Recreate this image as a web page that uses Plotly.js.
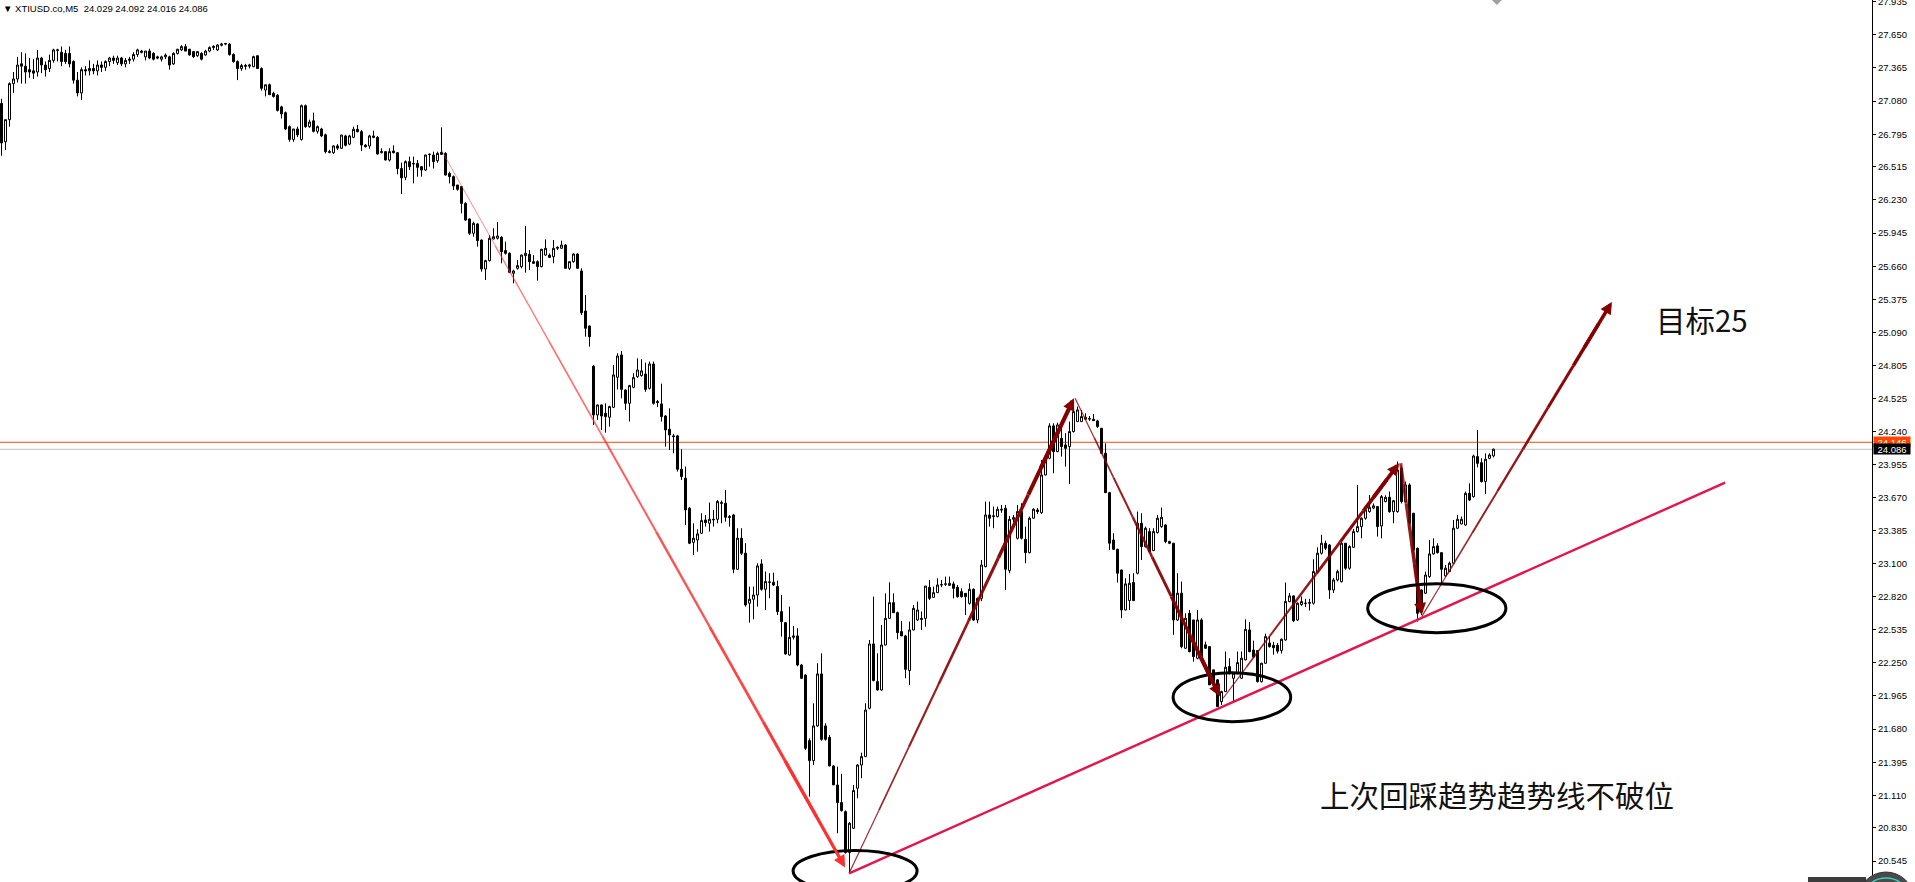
<!DOCTYPE html>
<html><head><meta charset="utf-8">
<script src="https://cdn.plot.ly/plotly-3.0.1.min.js"></script>
<style>html,body{margin:0;padding:0;background:#fff;overflow:hidden}#chart{width:1915px;height:882px}</style>
</head><body><div id="chart"></div>
<script>
// ---- data ----
const headerText = "\u25BC\u00a0XTIUSD.co,M5\u00a0\u00a024.029 24.092 24.016 24.086";
const openP = [
27.06,26.73,26.92,27.23,27.27,27.40,27.38,27.35,27.34,27.33,
27.45,27.39,27.36,27.43,27.515,27.50,27.49,27.49,27.42,27.26,
27.15,27.35,27.34,27.36,27.34,27.39,27.37,27.42,27.45,27.41,
27.45,27.40,27.43,27.44,27.48,27.51,27.46,27.51,27.49,27.46,
27.44,27.46,27.46,27.40,27.49,27.52,27.548,27.525,27.505,27.47,
27.49,27.476,27.51,27.54,27.52,27.56,27.57,27.57,27.48,27.42,
27.36,27.385,27.38,27.376,27.47,27.36,27.175,27.22,27.146,27.13,
27.03,26.98,26.86,26.75,26.84,26.75,27.04,26.86,26.91,26.82,
26.84,26.79,26.645,26.636,26.694,26.674,26.78,26.71,26.768,26.837,
26.817,26.70,26.694,26.78,26.768,26.636,26.645,26.573,26.65,26.636,
26.50,26.424,26.559,26.544,26.544,26.516,26.487,26.62,26.616,26.567,
26.639,26.630,26.458,26.430,26.358,26.344,26.200,26.066,25.943,26.023,
25.885,25.636,25.708,25.894,25.900,25.908,25.794,25.771,25.599,25.642,
25.656,25.751,25.762,25.699,25.699,25.656,25.756,25.756,25.742,25.814,
25.814,25.842,25.642,25.699,25.765,25.619,25.275,25.146,24.80,24.381,
24.467,24.395,24.361,24.447,24.705,24.897,24.596,24.481,24.619,24.71,
24.72,24.733,24.61,24.819,24.496,24.476,24.372,24.258,24.201,24.201,
23.914,23.837,23.579,23.286,23.306,23.364,23.478,23.450,23.484,23.484,
23.627,23.622,23.507,23.521,23.054,23.321,23.192,22.762,22.796,22.833,
23.100,22.882,22.942,22.942,22.905,22.690,22.595,22.317,22.469,22.481,
22.231,22.145,21.581,21.409,21.707,22.154,21.707,21.609,21.363,21.199,
21.048,20.970,20.618,20.827,21.171,21.371,21.443,21.859,22.412,22.088,
22.016,22.403,22.632,22.767,22.681,22.518,22.481,22.183,22.532,22.618,
22.632,22.632,22.899,22.813,22.853,22.919,22.925,22.916,22.928,22.899,
22.862,22.847,22.761,22.882,22.618,22.804,23.077,23.521,23.507,23.507,
23.570,23.579,23.043,23.484,23.321,23.550,23.312,23.197,23.493,23.564,
23.541,23.865,24.009,24.287,24.066,24.180,24.123,24.109,24.238,24.324,
24.324,24.344,24.349,24.344,24.330,24.266,24.052,23.713,23.306,23.226,
23.048,22.704,22.785,22.940,23.020,23.450,23.249,23.378,23.215,23.370,
23.421,23.435,23.292,23.278,22.618,22.848,22.375,22.676,22.618,22.289,
22.618,22.404,22.389,22.189,22.103,21.916,22.002,22.217,22.117,22.160,
22.117,22.275,22.532,22.36,22.355,22.088,22.246,22.42,22.40,22.40,
22.355,22.446,22.776,22.825,22.618,22.75,22.76,22.762,22.762,23.034,
23.192,23.278,23.263,22.876,22.962,22.948,23.278,23.063,23.243,23.378,
23.421,23.493,23.55,23.58,23.593,23.427,23.636,23.673,23.550,23.550,
23.922,23.636,23.779,23.535,23.235,22.876,22.848,22.991,23.186,23.255,
23.197,22.997,23.034,23.106,23.407,23.444,23.435,23.707,23.679,24.023,
23.971,23.808,24.008,24.029];
const highP = [
27.10,26.92,27.24,27.33,27.46,27.50,27.49,27.45,27.44,27.52,
27.46,27.42,27.48,27.53,27.53,27.55,27.52,27.55,27.43,27.33,
27.37,27.38,27.43,27.40,27.43,27.42,27.43,27.46,27.47,27.47,
27.46,27.45,27.46,27.50,27.53,27.52,27.51,27.53,27.50,27.47,
27.47,27.49,27.47,27.50,27.53,27.56,27.57,27.53,27.51,27.51,
27.50,27.52,27.55,27.56,27.57,27.58,27.58,27.58,27.49,27.43,
27.40,27.40,27.40,27.47,27.47,27.37,27.22,27.23,27.16,27.14,
27.04,26.99,26.87,26.84,26.86,27.05,27.05,26.92,26.98,26.87,
26.85,26.80,26.66,26.70,26.71,26.79,26.79,26.79,26.86,26.874,
26.83,26.71,26.79,26.825,26.78,26.674,26.65,26.674,26.70,26.64,
26.55,26.57,26.602,26.602,26.573,26.52,26.62,26.63,26.645,26.645,
26.854,26.64,26.473,26.44,26.36,26.35,26.21,26.07,26.043,26.03,
25.89,25.715,25.928,25.986,26.040,25.92,25.871,25.78,25.63,25.713,
25.76,26.006,25.799,25.756,25.71,25.81,25.891,25.77,25.885,25.83,
25.880,25.85,25.70,25.77,25.77,25.642,25.412,25.15,24.81,24.47,
24.47,24.481,24.46,24.81,24.911,24.931,24.60,24.64,24.74,24.868,
24.86,24.831,24.84,24.84,24.51,24.65,24.38,24.438,24.218,24.21,
24.086,23.937,23.59,23.450,23.398,23.536,23.521,23.627,23.564,23.650,
23.645,23.736,23.521,23.53,23.407,23.407,23.278,22.905,22.905,23.106,
23.140,23.034,23.020,23.025,22.957,22.833,22.60,22.733,22.567,22.547,
22.24,22.15,21.601,21.902,22.246,22.332,21.73,21.629,21.37,21.357,
21.295,20.98,20.88,21.199,21.38,21.477,21.902,22.446,22.819,22.332,
22.575,22.847,22.942,22.847,22.69,22.610,22.49,22.604,22.747,22.776,
22.690,22.910,22.962,22.905,22.976,22.962,22.991,22.991,22.948,22.919,
22.890,22.85,22.933,22.89,22.81,23.134,23.636,23.636,23.593,23.593,
23.607,23.607,23.513,23.52,23.607,23.622,23.421,23.507,23.579,23.58,
23.994,24.037,24.309,24.309,24.315,24.281,24.224,24.324,24.453,24.453,
24.424,24.395,24.372,24.390,24.34,24.27,24.137,23.72,23.364,23.23,
23.05,22.977,23.014,23.020,23.550,23.536,23.421,23.407,23.407,23.521,
23.584,23.44,23.30,23.28,23.020,22.948,22.676,22.704,22.62,22.704,
22.633,22.432,22.39,22.19,22.11,22.01,22.346,22.289,22.17,22.346,
22.346,22.624,22.60,22.44,22.36,22.25,22.50,22.48,22.43,22.42,
22.46,22.94,22.85,22.83,22.77,22.82,22.80,22.80,23.14,23.243,
23.35,23.30,23.27,22.98,23.05,23.29,23.28,23.26,23.40,23.779,
23.50,23.599,23.693,23.62,23.599,23.693,23.69,23.722,23.65,23.980,
23.937,23.808,23.793,23.54,23.24,22.88,23.034,23.306,23.320,23.278,
23.20,23.091,23.120,23.478,23.521,23.507,23.722,23.793,24.04,24.252,
24.008,24.051,24.051,24.092];
const lowP = [
26.61,26.66,26.86,27.15,27.24,27.23,27.23,27.28,27.27,27.29,
27.32,27.29,27.33,27.41,27.42,27.38,27.40,27.37,27.23,27.12,
27.09,27.30,27.30,27.31,27.30,27.33,27.34,27.38,27.40,27.39,
27.38,27.37,27.40,27.42,27.46,27.49,27.43,27.44,27.43,27.44,
27.42,27.44,27.35,27.39,27.48,27.51,27.51,27.47,27.45,27.46,
27.43,27.47,27.50,27.52,27.51,27.55,27.56,27.47,27.41,27.26,
27.34,27.35,27.36,27.37,27.36,27.17,27.12,27.14,27.11,26.99,
26.93,26.83,26.73,26.73,26.77,26.74,26.85,26.85,26.81,26.80,
26.77,26.63,26.63,26.625,26.66,26.67,26.69,26.70,26.76,26.81,
26.65,26.68,26.67,26.76,26.62,26.63,26.57,26.56,26.63,26.45,
26.28,26.40,26.487,26.372,26.43,26.43,26.48,26.516,26.50,26.55,
26.616,26.44,26.372,26.315,26.31,26.115,26.05,25.928,25.914,25.828,
25.613,25.541,25.70,25.89,25.89,25.685,25.76,25.60,25.513,25.63,
25.642,25.604,25.627,25.68,25.536,25.65,25.75,25.73,25.685,25.80,
25.81,25.64,25.627,25.69,25.64,25.240,25.054,24.968,24.295,24.338,
24.252,24.229,24.281,24.44,24.60,24.524,24.424,24.324,24.61,24.70,
24.71,24.58,24.60,24.47,24.45,24.324,24.109,24.080,24.052,23.894,
23.822,23.435,23.27,23.177,23.206,23.36,23.421,23.378,23.421,23.450,
23.450,23.464,23.421,23.020,23.05,23.177,22.733,22.595,22.624,22.733,
22.87,22.704,22.805,22.91,22.661,22.475,22.32,22.31,22.45,22.22,
22.11,21.500,21.099,21.371,21.70,21.58,21.58,21.36,21.199,20.784,
20.97,20.61,20.440,20.82,21.085,21.257,21.44,21.85,22.09,22.01,
22.01,22.40,22.63,22.68,22.452,22.48,22.117,22.059,22.53,22.61,
22.532,22.561,22.790,22.81,22.85,22.90,22.91,22.91,22.804,22.81,
22.81,22.661,22.75,22.61,22.590,22.78,23.07,23.421,23.407,23.50,
23.54,22.876,23.020,23.46,23.31,23.31,23.106,23.19,23.49,23.53,
23.53,23.86,24.00,23.880,24.06,24.023,23.937,23.788,24.23,24.32,
24.32,24.34,24.33,24.33,24.27,24.05,23.71,23.220,23.22,22.940,
22.633,22.70,22.704,22.78,23.01,23.134,23.24,23.20,23.21,23.36,
23.41,23.278,23.27,22.490,22.61,22.375,22.37,22.34,22.260,22.28,
22.30,22.37,22.06,22.05,21.87,21.888,22.00,22.15,21.916,22.15,
22.11,22.27,22.34,22.29,22.08,22.08,22.24,22.38,22.32,22.33,
22.33,22.44,22.77,22.60,22.61,22.74,22.73,22.70,22.75,23.02,
23.18,23.22,22.80,22.85,22.95,22.94,23.05,23.05,23.24,23.37,
23.320,23.48,23.54,23.57,23.335,23.320,23.63,23.54,23.450,23.54,
23.62,23.63,23.44,23.21,22.604,22.661,22.84,22.98,23.18,23.19,
22.919,22.99,23.03,23.10,23.40,23.44,23.43,23.64,23.67,23.93,
23.80,23.702,24.00,24.016];
const closeP = [
26.72,26.92,27.23,27.27,27.39,27.38,27.33,27.33,27.32,27.45,
27.39,27.35,27.43,27.52,27.52,27.42,27.42,27.40,27.26,27.15,
27.35,27.34,27.36,27.34,27.39,27.37,27.42,27.45,27.43,27.45,
27.40,27.43,27.44,27.48,27.52,27.50,27.51,27.45,27.44,27.45,
27.46,27.475,27.39,27.49,27.525,27.548,27.51,27.477,27.462,27.505,
27.44,27.51,27.54,27.55,27.562,27.57,27.575,27.48,27.42,27.36,
27.385,27.38,27.39,27.462,27.36,27.19,27.22,27.135,27.12,27.00,
26.97,26.84,26.75,26.84,26.79,27.04,26.86,26.90,26.82,26.86,
26.78,26.645,26.64,26.694,26.675,26.788,26.70,26.78,26.837,26.817,
26.702,26.688,26.78,26.768,26.625,26.645,26.573,26.645,26.636,26.50,
26.42,26.559,26.516,26.540,26.51,26.487,26.616,26.622,26.559,26.630,
26.622,26.444,26.430,26.350,26.321,26.200,26.057,25.943,26.029,25.880,
25.636,25.708,25.900,25.914,25.920,25.785,25.771,25.607,25.619,25.665,
25.756,25.771,25.699,25.685,25.656,25.805,25.814,25.736,25.814,25.822,
25.842,25.642,25.699,25.765,25.642,25.260,25.126,25.054,24.381,24.467,
24.372,24.367,24.453,24.725,24.888,24.601,24.481,24.633,24.702,24.768,
24.76,24.601,24.819,24.481,24.488,24.367,24.252,24.209,24.195,23.914,
23.851,23.564,23.278,23.321,23.358,23.473,23.455,23.484,23.480,23.636,
23.622,23.501,23.501,23.054,23.321,23.192,22.747,22.796,22.833,23.083,
22.882,22.948,22.945,22.919,22.690,22.604,22.326,22.469,22.481,22.231,
22.117,21.515,21.409,21.707,22.154,21.592,21.592,21.363,21.20,21.048,
20.979,20.618,20.870,21.151,21.371,21.443,21.844,22.412,22.097,22.016,
22.403,22.632,22.767,22.681,22.509,22.481,22.194,22.532,22.718,22.704,
22.624,22.910,22.804,22.853,22.919,22.922,22.928,22.933,22.890,22.819,
22.819,22.819,22.882,22.618,22.804,23.091,23.521,23.493,23.513,23.570,
23.565,23.054,23.484,23.498,23.550,23.321,23.197,23.493,23.570,23.550,
23.865,24.000,24.287,24.066,24.295,24.109,24.094,24.238,24.410,24.424,
24.367,24.361,24.347,24.332,24.281,24.052,23.713,23.278,23.226,23.020,
22.704,22.928,22.934,22.785,23.450,23.249,23.407,23.206,23.378,23.493,
23.501,23.292,23.278,22.618,22.848,22.389,22.633,22.346,22.303,22.618,
22.303,22.375,22.060,22.060,21.873,22.002,22.212,22.160,22.160,22.252,
22.289,22.538,22.346,22.30,22.088,22.246,22.475,22.39,22.38,22.35,
22.452,22.776,22.825,22.612,22.762,22.776,22.762,22.767,23.034,23.192,
23.278,23.235,22.876,22.962,23.034,23.278,23.063,23.249,23.378,23.421,
23.493,23.564,23.587,23.60,23.421,23.679,23.673,23.550,23.644,23.908,
23.636,23.779,23.450,23.220,22.676,22.690,23.005,23.186,23.249,23.197,
23.054,23.063,23.106,23.407,23.484,23.484,23.707,23.650,24.028,23.965,
23.808,24.000,24.037,24.086];

const tickVals = [27.935,27.650,27.365,27.080,26.795,26.515,26.230,25.945,25.660,25.375,25.090,24.805,24.525,24.240,
                  23.955,23.670,23.385,23.100,22.820,22.535,22.250,21.965,21.680,21.395,21.110,20.830,20.545];
const tickText = tickVals.map(v => v.toFixed(3));
const askPrice = 24.146;
const bidPrice = 24.086;

// drawn objects, in (bar index, price)
const redArrow = [[110.05, 26.654], [210.9, 20.49]];
const maroonArrows = [
  [[211.9, 20.44], [268.1, 24.524]],
  [[268.4, 24.524], [304.6, 21.959]],
  [[305.4, 21.945], [349.4, 23.966]],
  [[349.8, 23.966], [355.05, 22.661]],
  [[355.05, 22.647], [402.6, 25.353]]
];
const maroonWidths = [[1, 4.2], [1, 4], [1, 3.8], [3, 4], [1, 3.6]];
const trendLine = [[211.9, 20.44], [430.9, 23.799]];
const circleX = [[197.9, 228.9], [292.9, 322.3], [341.55, 376.1]];
const circleY = [[20.283, 20.636], [21.744, 22.165], [22.509, 22.929]];
const noteText = ['目标25', '上次回踩趋势趋势线不破位'];
const noteX = [413.0, 329.0];
const noteY = [25.205, 21.12];

// ---- build ----
const idx = openP.map((_, i) => i);
const traces = [{
  type: 'candlestick', x: idx, open: openP, high: highP, low: lowP, close: closeP,
  increasing: {line: {color: '#000', width: 1}, fillcolor: '#ffffff'},
  decreasing: {line: {color: '#000', width: 1}, fillcolor: '#000000'},
  whiskerwidth: 0, hoverinfo: 'skip', showlegend: false
}];
const annotations = [];

function lerp(a, b, t) { return [a[0] + (b[0] - a[0]) * t, a[1] + (b[1] - a[1]) * t]; }
function addArrow(p0, p1, w0, w1, color, a0, a1) {
  const n = 7, stop = 0.93;
  for (let k = 0; k < n; k++) {
    const s = lerp(p0, p1, stop * k / n), e = lerp(p0, p1, stop * (k + 1) / n);
    const f = (k + 0.5) / n;
    const alpha = a0 + (a1 - a0) * f;
    traces.push({type: 'scatter', mode: 'lines', x: [s[0], e[0]], y: [s[1], e[1]],
      line: {color: color.replace('A', alpha.toFixed(2)), width: w0 + (w1 - w0) * f},
      hoverinfo: 'skip', showlegend: false});
  }
  const tail = lerp(p0, p1, 0.85);
  annotations.push({x: p1[0], y: p1[1], xref: 'x', yref: 'y', ax: tail[0], ay: tail[1], axref: 'x', ayref: 'y',
    text: '', showarrow: true, arrowhead: 2, arrowwidth: w1, arrowsize: 12 / (5 * w1),
    arrowcolor: color.replace('A', a1.toFixed(2)), standoff: 0});
}
addArrow(redArrow[0], redArrow[1], 0.8, 3.2, 'rgba(255,48,48,A)', 0.55, 1);
maroonArrows.forEach((seg, k) => addArrow(seg[0], seg[1], maroonWidths[k][0], maroonWidths[k][1], 'rgba(133,0,0,A)', 0.8, 1));

traces.push({type: 'scatter', mode: 'lines', x: trendLine.map(p => p[0]), y: trendLine.map(p => p[1]),
  line: {color: '#e3154a', width: 2.4}, hoverinfo: 'skip', showlegend: false});

noteText.forEach((t, k) => annotations.push({x: noteX[k], y: noteY[k], xref: 'x', yref: 'y', xanchor: 'left', yanchor: 'middle',
  text: t, showarrow: false, font: {family: 'Noto Sans CJK SC, sans-serif', size: 29.5, color: '#111'}}));

annotations.push({x: 0, y: 1, xref: 'paper', yref: 'paper', xanchor: 'left', yanchor: 'top', xshift: 1, yshift: -1,
  text: headerText, showarrow: false, font: {family: 'Liberation Sans, Arial, sans-serif', size: 9.5, color: '#000'}});
annotations.push({x: 1, y: askPrice, xref: 'paper', yref: 'y', xanchor: 'left', yanchor: 'middle', xshift: 1,
  text: askPrice.toFixed(3), showarrow: false, bgcolor: '#ff4500', width: 36, height: 10, borderpad: 0,
  font: {family: 'Liberation Sans, Arial, sans-serif', size: 9.5, color: '#fff'}});
annotations.push({x: 1, y: bidPrice, xref: 'paper', yref: 'y', xanchor: 'left', yanchor: 'middle', xshift: 1,
  text: bidPrice.toFixed(3), showarrow: false, bgcolor: '#000', width: 36, height: 10, borderpad: 0,
  font: {family: 'Liberation Sans, Arial, sans-serif', size: 9.5, color: '#fff'}});

const shapes = [
  {type: 'line', xref: 'paper', x0: 0, x1: 1, yref: 'y', y0: askPrice, y1: askPrice, line: {color: '#ff4500', width: 1}, layer: 'below'},
  {type: 'line', xref: 'paper', x0: 0, x1: 1, yref: 'y', y0: bidPrice, y1: bidPrice, line: {color: '#c0c0c0', width: 1}, layer: 'below'}
];
circleX.forEach((cx, k) => shapes.push({type: 'circle', xref: 'x', yref: 'y', x0: cx[0], x1: cx[1], y0: circleY[k][0], y1: circleY[k][1],
  line: {color: '#000', width: 3}, layer: 'above'}));
// chart shift marker + bottom-right widget (decoration)
shapes.push({type: 'path', xref: 'x', yref: 'paper', path: 'M372.6,1 L375.1,1 L373.85,0.9943 Z', fillcolor: '#a0a0a0', line: {width: 0}, layer: 'above'});
shapes.push({type: 'rect', xref: 'paper', yref: 'paper', x0: 0.9658, x1: 0.9968, y0: -0.02, y1: 0.0057, fillcolor: '#3c3c3c', line: {width: 0}, layer: 'above'});
shapes.push({type: 'circle', xref: 'paper', yref: 'paper', x0: 0.9925, x1: 1.0224, y0: -0.052, y1: 0.0113, fillcolor: '#4a4a4a', line: {color: '#333', width: 1}, layer: 'above'});
shapes.push({type: 'circle', xref: 'paper', yref: 'paper', x0: 0.9968, x1: 1.0182, y0: -0.03, y1: 0.0045, line: {color: '#35d0c0', width: 1.5}, layer: 'above'});

const layout = {
  width: 1915, height: 882,
  margin: {l: 0, r: 43, t: 0, b: 0, pad: 0},
  paper_bgcolor: '#fff', plot_bgcolor: '#fff',
  showlegend: false, boxgap: 0.5, boxgroupgap: 0,
  font: {family: 'Liberation Sans, Arial, sans-serif', size: 9.5, color: '#000'},
  xaxis: {range: [-0.375, 467.625], visible: false, showgrid: false, zeroline: false, rangeslider: {visible: false}, fixedrange: true},
  yaxis: {range: [20.365, 27.949], side: 'right', tickmode: 'array', tickvals: tickVals, ticktext: tickText,
    showgrid: false, zeroline: false, showline: true, linecolor: '#000', linewidth: 1, mirror: false,
    ticks: 'outside', ticklen: 3, tickcolor: '#000', tickwidth: 1, ticklabeloverflow: 'allow', automargin: false,
    tickfont: {family: 'Liberation Sans, Arial, sans-serif', size: 9.5, color: '#000'}, fixedrange: true},
  annotations: annotations, shapes: shapes
};
Plotly.newPlot('chart', traces, layout, {staticPlot: true, displayModeBar: false});
</script></body></html>
